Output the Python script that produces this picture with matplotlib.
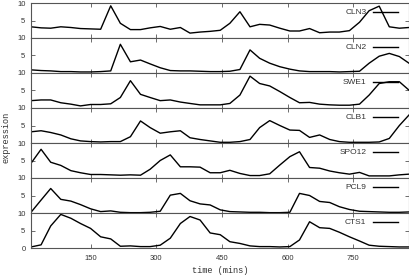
import matplotlib
matplotlib.use("Agg")
from matplotlib import pyplot as plt

# tempos de amostragem (minutos)
tempos = [14, 37, 59, 82, 105, 127, 150, 173, 196, 218, 241, 264, 286,
          309, 332, 355, 377, 400, 423, 446, 468, 491, 514, 536, 559, 582,
          605, 627, 650, 673, 696, 718, 741, 764, 786, 809, 832, 855, 877]

genes = ["CLN3", "CLN2", "SWE1", "CLB1", "SPO12", "PCL9", "CTS1"]

cln3 = [3.2, 2.9, 2.8, 3.2, 3.0, 2.7, 2.6, 2.5, 9.2, 4.2, 2.4, 2.4, 2.9,
        3.3, 2.5, 3.0, 1.4, 1.7, 1.9, 2.2, 4.2, 7.5, 3.2, 3.9, 3.7, 2.8,
        2.0, 2.0, 2.7, 1.5, 1.7, 1.7, 2.1, 4.5, 7.8, 9.1, 3.2, 2.8, 3.0]
cln2 = [0.9, 0.7, 0.6, 0.4, 0.4, 0.3, 0.3, 0.4, 0.6, 8.2, 3.2, 3.7, 2.6,
        1.5, 0.7, 0.6, 0.6, 0.5, 0.4, 0.4, 0.5, 1.0, 6.6, 4.2, 2.8, 1.8,
        1.1, 0.6, 0.4, 0.4, 0.4, 0.3, 0.4, 0.5, 2.8, 4.8, 5.6, 4.7, 2.8]
swe1 = [2.1, 2.3, 2.3, 1.5, 1.1, 0.6, 1.0, 1.0, 1.2, 3.0, 7.8, 3.9, 3.0,
        2.1, 2.3, 1.7, 1.3, 0.9, 0.9, 0.9, 1.3, 3.7, 9.1, 7.0, 6.3, 4.7,
        3.0, 1.5, 1.6, 1.1, 0.9, 0.8, 0.8, 1.1, 3.7, 7.0, 7.5, 7.5, 5.1]
clb1 = [3.2, 3.5, 3.0, 2.3, 1.2, 0.6, 0.4, 0.3, 0.4, 0.4, 1.8, 6.3, 4.4,
        2.8, 3.2, 3.5, 1.5, 1.0, 0.6, 0.2, 0.2, 0.4, 1.0, 4.4, 6.4, 5.0,
        3.7, 3.6, 1.6, 2.3, 1.0, 0.4, 0.2, 0.2, 0.2, 0.3, 1.3, 5.0, 8.0]
spo12 = [4.2, 8.2, 4.5, 3.6, 2.1, 1.5, 1.0, 1.0, 0.9, 0.8, 0.9, 0.8, 2.5,
         5.0, 6.6, 3.2, 3.2, 3.1, 1.5, 1.5, 2.2, 1.3, 0.7, 0.7, 1.2, 3.7,
         6.1, 7.5, 3.0, 2.8, 2.0, 1.5, 1.1, 1.6, 0.6, 0.6, 0.6, 0.9, 1.1]
pcl9 = [0.2, 3.7, 7.0, 3.9, 3.4, 2.4, 1.2, 0.4, 0.6, 0.2, 0.1, 0.1, 0.2,
        0.5, 5.1, 5.6, 3.5, 2.6, 2.3, 0.9, 0.4, 0.3, 0.2, 0.2, 0.1, 0.1,
        0.2, 5.6, 5.0, 3.3, 3.0, 1.8, 1.0, 0.5, 0.4, 0.3, 0.2, 0.2, 0.3]
cts1 = [0.3, 0.9, 6.3, 9.6, 8.5, 7.0, 5.6, 3.2, 2.6, 0.5, 0.6, 0.4, 0.4,
        0.8, 2.8, 7.0, 9.0, 8.0, 4.3, 3.8, 1.8, 1.3, 0.6, 0.4, 0.4, 0.3,
        0.4, 2.3, 7.5, 5.8, 5.6, 4.5, 3.2, 2.0, 0.8, 0.5, 0.4, 0.3, 0.3]

series = [cln3, cln2, swe1, clb1, spo12, pcl9, cts1]

cor_texto = "#333333"
cor_borda = "#555555"

fig, axes = plt.subplots(len(genes), 1, sharex=True, figsize=(4.1, 2.75), dpi=100)
fig.subplots_adjust(left=31 / 410, right=409 / 410, top=1 - 3 / 275,
                    bottom=1 - 248 / 275, hspace=0)

for n, (ax, nome, valores) in enumerate(zip(axes, genes, series)):
    ax.plot(tempos, valores, color="black", linewidth=1.0, label=nome)
    ax.set_xlim(tempos[0], tempos[-1])
    ax.set_ylim(0, 10)
    ax.set_yticks([0, 5, 10])
    if n < len(genes) - 1:
        ax.set_yticklabels(["", "5", "10"])
    ax.set_xticks([150, 300, 450, 600, 750])
    ax.tick_params(direction="in", length=3, width=0.6, color=cor_borda,
                   top=True, right=True, labelsize=5.5, labelcolor=cor_texto,
                   pad=4)
    ax.tick_params(axis="x", pad=5)
    for s in ax.spines.values():
        s.set_color(cor_borda)
        s.set_linewidth(0.8)
    for lab in ax.get_xticklabels() + ax.get_yticklabels():
        lab.set_family("Liberation Sans")
    ax.legend(loc="upper right", bbox_to_anchor=(0.971, 0.84), frameon=False,
              markerfirst=False, handlelength=3.0, handletextpad=0.8,
              borderpad=0, borderaxespad=0, labelcolor=cor_texto,
              prop={"family": "Liberation Sans", "size": 6})

axes[-1].set_xlabel("time (mins)", family="Liberation Mono", fontsize=6.2,
                    color=cor_texto, labelpad=3)
fig.text(6 / 410, 0.5, "expression", rotation=90, va="center", ha="center",
         family="Liberation Mono", fontsize=6.2, color=cor_texto)

plt.savefig("out.png")
